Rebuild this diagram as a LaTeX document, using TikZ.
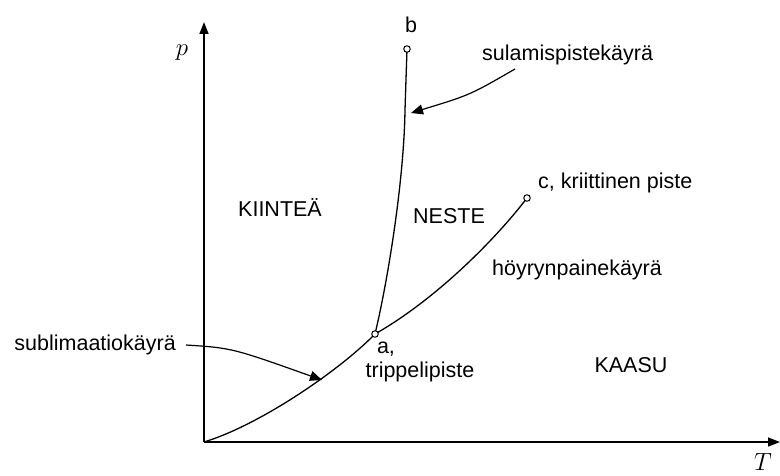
\documentclass[tikz,border=0pt]{standalone}
\usepackage{fontspec}
\setmainfont{Liberation Sans}
\usepackage{tikz}
\usetikzlibrary{arrows.meta}
\tikzset{
  axis/.style={line width=1.7pt, -{Triangle[length=12pt, width=9pt]}},
  curve/.style={line width=1.3pt},
  pnt/.style={circle, draw, line width=1pt, fill=white, inner sep=0pt, minimum size=6.5pt},
  lbl/.style={font=\fontsize{21.5}{24}\selectfont, inner sep=0pt},
  pointer/.style={line width=1.2pt, -{Triangle[length=12pt, width=10pt]}},
}
\begin{document}
\begin{tikzpicture}[x=1pt, y=-1pt]
  \useasboundingbox (0,0) rectangle (780,476);
  % axes
  \coordinate (O) at (204,442);
  \coordinate (ptop) at (204,22);
  \coordinate (tend) at (780,442);
  \draw[axis] (O) -- (ptop);
  \draw[axis] (O) -- (tend);
  \node[font=\fontsize{25}{27}\selectfont] (plbl) at (182,53) {$p$};
  \node[font=\fontsize{25}{27}\selectfont] (tlbl) at (763,462) {$T$};
  % special points
  \coordinate (a) at (375,334);
  \coordinate (b) at (407,49);
  \coordinate (c) at (527,198);
  % phase boundaries
  \draw[curve] (O) .. controls (260,425) and (340,370) .. (a);
  \draw[curve] (a) .. controls (388,280) and (404,180) .. (405,110) -- (b);
  \draw[curve] (a) .. controls (435,300) and (495,240) .. (c);
  \node[pnt] (pa) at (a) {};
  \node[pnt] (pb) at (b) {};
  \node[pnt] (pc) at (c) {};
  % point labels
  \node[lbl] (blbl) at (411,25) {b};
  \node[lbl, anchor=west] (clbl) at (538,183) {c, kriittinen piste};
  \node[lbl] (albl) at (386,349) {a,};
  \node[lbl] (trip) at (420,372) {trippelipiste};
  % regions
  \node[lbl] (solid) at (280,208) {KIINTEÄ};
  \node[lbl] (liquid) at (449,216) {NESTE};
  \node[lbl] (gas) at (631,365) {KAASU};
  % curve names with pointers
  \node[lbl] (vap) at (577,270) {höyrynpainekäyrä};
  \node[lbl, anchor=west] (melt) at (482,55) {sulamispistekäyrä};
  \node[lbl, anchor=east] (subl) at (176,345) {sublimaatiokäyrä};
  \coordinate (meltend) at (411,113);
  \coordinate (sublend) at (322,380);
  \draw[pointer] (515,69) .. controls (470,95) .. (meltend);
  \draw[pointer] (subl.east) ++(10,0) .. controls (232,348) .. (sublend);
\end{tikzpicture}
\end{document}
